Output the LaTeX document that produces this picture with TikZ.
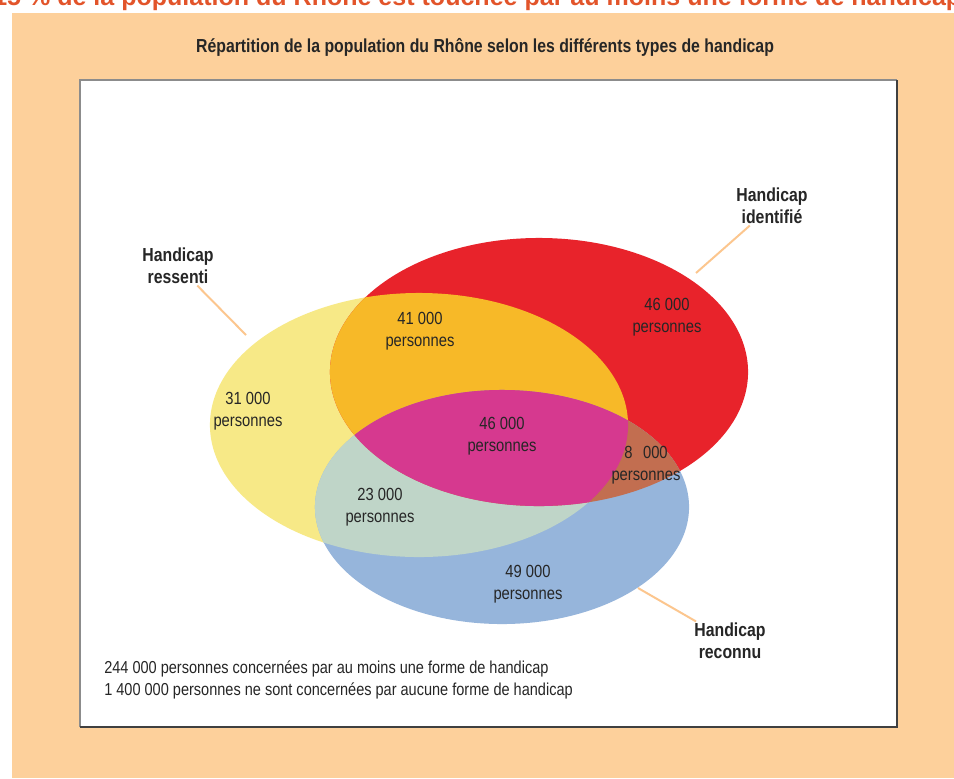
\documentclass[tikz,border=0pt]{standalone}
\usepackage{fontspec}
\setmainfont[FakeStretch=0.84]{Liberation Sans}
\newfontfamily\headfont{Liberation Sans}
\usetikzlibrary{positioning}
\definecolor{peach}{HTML}{FDD09B}
\definecolor{peachline}{HTML}{FCC68E}
\definecolor{headred}{HTML}{E2542A}
\definecolor{ressentiyellow}{HTML}{F7E987}
\definecolor{identifiered}{HTML}{E8232B}
\definecolor{reconnublue}{HTML}{96B5DB}
\definecolor{ressidorange}{HTML}{F7B928}
\definecolor{resreconngreen}{HTML}{BFD5C8}
\definecolor{idreconnbrown}{HTML}{C26E50}
\definecolor{allmagenta}{HTML}{D6398F}
\newcommand\ellressenti{(419,425) ellipse [x radius=5.225cm, y radius=3.3cm]}
\newcommand\ellidentifie{(539,372) ellipse [x radius=5.225cm, y radius=3.35cm]}
\newcommand\ellreconnu{(502,507) ellipse [x radius=4.675cm, y radius=2.925cm]}
\tikzset{
  count/.style={align=center,text=black!85,inner sep=1pt,
    font=\fontsize{12.5}{15.6}\selectfont},
  setlabel/.style={align=center,text=black!85,inner sep=1pt,
    font=\bfseries\fontsize{13.4}{15.6}\selectfont},
  leader/.style={draw=peachline,line width=1.4pt},
}

\begin{document}
\begin{tikzpicture}[x=0.025cm,y=-0.025cm]
  \useasboundingbox (0,0) rectangle (954,778);
  % background and panel
  \fill[peach] (12,13) rectangle (954,778);
  \node[anchor=base west,text=headred,inner sep=0,
    font=\headfont\bfseries\fontsize{17.8}{20}\selectfont] (headline) at (-7,5)
    {15 \% de la population du Rhône est touchée par au moins une forme de handicap};
  \fill[white] (80,80) rectangle (897,727);
  \draw[black!45,line width=0.8pt] (80,727) -- (80,80) -- (897,80);
  \draw[black!75,line width=1.4pt] (80,727) -- (897,727) -- (897,80);
  \node[font=\bfseries\fontsize{13.4}{15}\selectfont,text=black!85] (title) at (485,47)
    {Répartition de la population du Rhône selon les différents types de handicap};
  % the three sets
  \fill[ressentiyellow] \ellressenti;
  \fill[identifiered] \ellidentifie;
  \fill[reconnublue] \ellreconnu;
  \begin{scope}
    \clip \ellressenti;
    \fill[ressidorange] \ellidentifie;
    \fill[resreconngreen] \ellreconnu;
  \end{scope}
  \begin{scope}
    \clip \ellidentifie;
    \fill[idreconnbrown] \ellreconnu;
  \end{scope}
  \begin{scope}
    \clip \ellressenti;
    \clip \ellidentifie;
    \fill[allmagenta] \ellreconnu;
  \end{scope}
  % counts
  \node[count] (resid) at (420,331) {41 000\\personnes};
  \node[count] (idonly) at (667,317) {46 000\\personnes};
  \node[count] (resonly) at (248,411) {31 000\\personnes};
  \node[count] (allthree) at (502,436) {46 000\\personnes};
  \node[count] (idreconn) at (646,465) {8\hspace{0.6em}000\\personnes};
  \node[count] (resreconn) at (380,507) {23 000\\personnes};
  \node[count] (reconnonly) at (528,584) {49 000\\personnes};
  % set labels
  \node[setlabel] (ressenti) at (178,266) {Handicap\\ressenti};
  \node[setlabel] (identifie) at (772,206) {Handicap\\identifié};
  \node[setlabel] (reconnu) at (730,641) {Handicap\\reconnu};
  \coordinate (ressentiend) at (246,335);
  \coordinate (identifieend) at (696,273);
  \coordinate (reconnuend) at (638,588);
  \draw[leader] (ressenti) -- (ressentiend);
  \draw[leader] (identifie) -- (identifieend);
  \draw[leader] (reconnu) -- (reconnuend);
  % totals
  \node[anchor=north west,align=left,text=black!85,inner sep=0,
    font=\fontsize{12.3}{16.2}\selectfont] (totals) at (104,660)
    {244 000 personnes concernées par au moins une forme de handicap\\
     1 400 000 personnes ne sont concernées par aucune forme de handicap};
\end{tikzpicture}
\end{document}
